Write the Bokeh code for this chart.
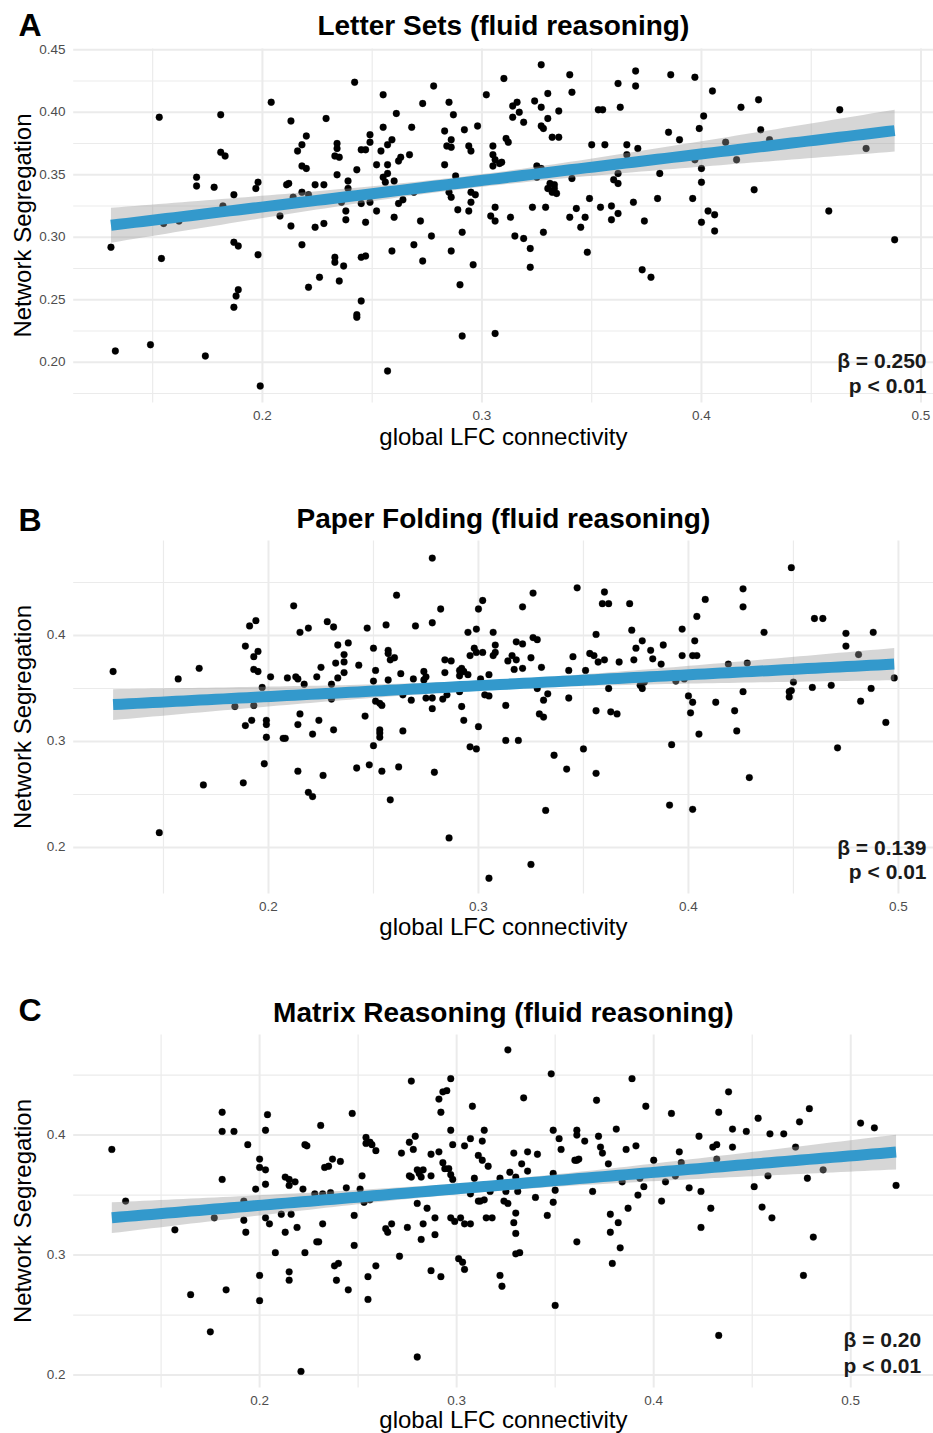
import math
import numpy as np
from bokeh.plotting import figure
from bokeh.models import Range1d, Label
from bokeh.core.properties import value
from bokeh.layouts import column
from bokeh.embed import file_html
from bokeh.resources import INLINE

# ---------------- data ----------------
a_x = [0.131,0.133,0.149,0.153,0.154,0.155,0.162,0.170,0.170,0.174,0.178,0.181,0.181,0.183,0.182,0.187,0.187,0.189,0.189,0.188,
       0.187,0.197,0.198,0.198,0.199,0.204,0.208,0.211,0.212,0.213,0.213,0.214,0.218,0.216,0.218,0.220,0.218,0.220,0.218,0.221,
       0.221,0.224,0.224,0.226,0.228,0.229,0.228,0.233,0.233,0.234,0.234,0.234,0.233,0.235,0.235,0.237,0.238,0.238,0.236,0.239,
       0.239,0.242,0.243,0.245,0.245,0.247,0.247,0.245,0.247,0.245,0.243,0.243,0.249,0.249,0.249,
       0.255,0.255,0.259,0.257,0.254,0.252,0.257,0.255,0.257,0.256,0.260,0.261,0.262,0.263,0.267,0.268,0.252,0.260,0.262,0.264,
       0.269,0.272,0.273,0.278,0.277,0.269,0.273,0.259,0.257,0.283,0.285,0.287,0.284,0.286,0.286,0.283,0.288,0.285,0.286,0.289,
       0.286,0.291,0.290,0.291,0.292,0.294,0.295,0.295,0.297,0.295,0.294,0.296,0.298,0.302,0.305,0.305,0.306,0.305,0.308,0.309,
       0.310,0.311,0.312,0.306,0.304,0.306,0.306,0.313,0.314,0.314,0.316,0.317,0.319,0.315,0.319,0.322,0.322,0.323,0.324,0.327,
       0.327,0.330,0.330,0.327,0.328,0.325,0.327,0.325,0.328,0.329,0.330,0.331,0.333,0.332,0.334,0.333,0.332,0.335,0.335,0.340,
       0.341,0.341,0.340,0.343,0.345,0.347,0.349,0.348,0.350,0.353,0.355,0.356,0.354,0.359,0.359,0.362,0.360,0.362,0.362,0.366,
       0.362,0.363,0.366,0.370,0.370,0.371,0.369,0.374,0.373,
       0.377,0.386,0.397,0.405,0.401,0.399,0.385,0.390,0.397,0.400,0.400,0.381,0.380,0.396,0.403,0.406,0.400,0.406,0.418,0.426,
       0.427,0.431,0.411,0.416,0.424,0.458,0.463,0.475,0.488]
a_y = [0.292,0.209,0.214,0.396,0.283,0.311,0.313,0.348,0.341,0.205,0.340,0.398,0.368,0.365,0.325,0.334,0.296,0.293,0.258,0.253,
       0.244,0.339,0.344,0.286,0.181,0.408,0.317,0.342,0.343,0.393,0.309,0.332,0.294,0.369,0.374,0.381,0.357,0.355,0.336,0.334,
       0.260,0.342,0.308,0.268,0.342,0.395,0.311,0.284,0.280,0.350,0.375,0.371,0.365,0.364,0.265,0.277,0.321,0.314,0.328,0.345,
       0.339,0.424,0.354,0.327,0.370,0.370,0.312,0.284,0.285,0.249,0.238,0.236,0.382,0.376,0.328,
       0.414,0.388,0.378,0.374,0.369,0.358,0.358,0.348,0.351,0.344,0.345,0.399,0.361,0.364,0.366,0.388,0.321,0.316,0.327,0.330,
       0.336,0.313,0.407,0.421,0.301,0.294,0.281,0.289,0.193,0.385,0.408,0.398,0.373,0.378,0.372,0.358,0.349,0.336,0.332,0.322,
       0.289,0.304,0.262,0.221,0.386,0.373,0.369,0.336,0.334,0.328,0.321,0.278,0.389,0.414,0.373,0.366,0.362,0.357,0.359,0.360,
       0.427,0.379,0.376,0.324,0.317,0.313,0.223,0.316,0.396,0.405,0.408,0.400,0.392,0.301,0.299,0.291,0.276,0.324,0.409,0.404,
       0.438,0.415,0.395,0.389,0.387,0.357,0.355,0.348,0.304,0.324,0.339,0.343,0.339,0.336,0.335,0.342,0.380,0.380,0.401,0.430,
       0.416,0.347,0.316,0.323,0.308,0.316,0.331,0.288,0.374,0.402,0.402,0.374,0.324,0.325,0.314,0.319,0.346,0.343,0.351,0.366,
       0.423,0.404,0.374,0.433,0.421,0.371,0.328,0.313,0.274,
       0.268,0.430,0.428,0.417,0.397,0.387,0.384,0.378,0.362,0.355,0.344,0.351,0.331,0.331,0.321,0.318,0.312,0.305,0.404,0.410,
       0.386,0.378,0.376,0.362,0.338,0.321,0.402,0.371,0.298]

b_x = [0.126,0.148,0.157,0.167,0.169,0.184,0.188,0.191,0.194,0.189,0.195,0.193,0.193,0.195,0.197,0.193,0.192,0.189,0.199,0.199,
       0.199,0.198,0.201,0.209,0.213,0.214,0.212,0.215,0.219,0.217,0.215,0.214,0.207,0.208,0.221,0.214,0.219,0.221,0.223,0.225,
       0.224,0.226,0.228,0.231,0.233,0.238,0.236,0.236,0.232,0.236,0.233,0.230,0.230,0.231,0.243,0.247,0.246,0.242,0.248,
       0.250,0.251,0.250,0.251,0.253,0.254,0.253,0.253,0.253,0.250,0.254,0.258,0.256,0.261,0.257,0.258,0.260,0.257,0.257,0.263,
       0.264,0.264,0.262,0.269,0.268,0.270,0.274,0.275,0.274,0.275,0.278,0.278,0.278,0.278,0.282,0.279,0.286,0.284,0.284,0.287,
       0.283,0.285,0.285,0.291,0.292,0.293,0.291,0.295,0.291,0.292,0.293,0.295,0.299,0.298,0.296,0.299,0.302,0.300,0.302,0.296,
       0.299,0.300,0.301,0.303,0.305,0.305,0.307,0.308,0.308,0.307,0.305,0.314,0.316,0.318,0.317,0.321,0.318,0.321,0.321,0.326,
       0.326,0.328,0.325,0.330,0.328,0.333,0.331,0.329,0.331,0.313,0.313,0.319,0.325,0.332,0.336,0.342,0.343,0.343,0.345,0.347,
       0.350,0.351,0.353,0.355,0.356,0.357,0.360,0.356,0.356,0.360,0.359,0.362,0.362,0.363,0.366,0.367,0.372,0.373,0.375,0.374,
       0.377,
       0.378,0.378,0.382,0.383,0.387,0.388,0.379,0.394,0.397,0.397,0.402,0.404,0.403,0.404,0.408,0.398,0.400,0.402,0.401,0.405,
       0.392,0.391,0.402,0.413,0.419,0.428,0.426,0.426,0.426,0.422,0.423,0.429,0.436,0.449,0.450,0.448,0.448,0.449,0.460,0.464,
       0.459,0.468,0.471,0.475,0.475,0.481,0.482,0.487,0.488,0.494,0.498]
b_y = [0.366,0.214,0.359,0.369,0.259,0.333,0.261,0.409,0.414,0.390,0.385,0.380,0.368,0.366,0.351,0.334,0.320,0.315,0.320,0.316,
       0.304,0.279,0.361,0.360,0.361,0.359,0.428,0.403,0.407,0.354,0.326,0.316,0.303,0.303,0.307,0.272,0.252,0.248,0.361,0.370,
       0.320,0.268,0.413,0.408,0.391,0.393,0.382,0.375,0.374,0.365,0.360,0.354,0.340,0.311,0.372,0.407,0.324,0.275,0.278,
       0.388,0.367,0.357,0.338,0.336,0.334,0.311,0.308,0.304,0.296,0.272,0.245,0.410,0.438,0.386,0.377,0.379,0.383,0.358,0.364,
       0.344,0.310,0.276,0.359,0.339,0.409,0.366,0.361,0.358,0.341,0.341,0.331,0.473,0.412,0.425,0.271,0.209,0.365,0.377,0.376,
       0.340,0.344,0.351,0.362,0.369,0.366,0.367,0.363,0.347,0.333,0.320,0.403,0.406,0.388,0.381,0.384,0.384,0.425,0.433,0.295,
       0.293,0.314,0.359,0.344,0.343,0.363,0.403,0.391,0.384,0.381,0.171,0.376,0.381,0.377,0.368,0.369,0.394,0.392,0.427,0.440,
       0.398,0.396,0.379,0.370,0.350,0.345,0.339,0.326,0.323,0.334,0.301,0.301,0.184,0.235,0.287,0.274,0.341,0.367,0.380,0.445,
       0.293,0.367,0.383,0.381,0.401,0.375,0.377,0.329,0.270,0.441,0.430,0.430,0.350,0.328,0.326,0.375,0.430,0.405,0.388,0.377,
       0.353,
       0.395,0.350,0.386,0.378,0.373,0.391,0.356,0.357,0.406,0.381,0.381,0.381,0.395,0.418,0.434,0.359,0.343,0.337,0.327,0.307,
       0.297,0.240,0.236,0.337,0.373,0.374,0.427,0.444,0.347,0.329,0.310,0.266,0.403,0.464,0.356,0.347,0.342,0.348,0.416,0.416,
       0.351,0.353,0.294,0.402,0.390,0.382,0.338,0.350,0.403,0.318,0.360]

c_x = [0.125,0.132,0.157,0.165,0.175,0.177,0.181,0.181,0.187,0.181,0.183,0.192,0.192,0.193,0.194,0.198,0.200,0.200,0.203,0.203,
       0.204,0.203,0.203,0.205,0.200,0.200,0.208,0.211,0.216,0.213,0.213,0.215,0.215,0.218,0.215,0.215,0.221,0.219,0.222,0.223,
       0.224,0.223,0.229,0.230,0.228,0.232,0.236,0.231,0.232,0.233,0.235,0.237,0.241,0.238,0.240,0.239,0.245,0.244,0.247,0.248,
       0.248,0.252,0.251,0.253,0.255,0.255,0.254,0.254,
       0.256,0.257,0.259,0.256,0.259,0.264,0.265,0.267,0.271,0.272,0.275,0.276,0.278,0.279,0.277,0.276,0.277,0.280,0.281,0.283,
       0.282,0.287,0.280,0.285,0.283,0.282,0.289,0.289,0.287,0.292,0.280,0.287,0.291,0.291,0.293,0.295,0.297,0.292,0.297,0.298,
       0.293,0.294,0.296,0.297,0.298,0.297,0.299,0.302,0.301,0.303,0.304,0.304,0.307,0.304,0.307,0.308,0.309,0.307,0.311,0.314,
       0.312,0.311,0.313,0.316,0.314,0.313,0.315,0.318,0.317,0.322,0.323,0.322,0.324,0.326,0.325,0.326,0.327,0.329,0.330,0.331,
       0.330,0.329,0.330,0.330,0.332,0.334,0.333,0.336,0.336,0.340,0.341,0.346,0.348,0.349,0.349,0.350,0.349,0.350,0.352,0.353,
       0.361,0.361,0.365,0.361,0.362,0.360,0.361,0.369,0.371,0.372,0.373,0.374,0.377,0.381,0.378,0.382,0.378,0.383,0.379,0.384,
       0.386,0.389,0.391,0.393,0.392,0.395,0.387,0.396,
       0.400,0.409,0.406,0.404,0.411,0.413,0.414,0.418,0.423,0.424,0.424,0.429,0.430,0.432,0.432,0.433,0.438,0.440,0.440,0.433,
       0.447,0.451,0.453,0.455,0.458,0.459,0.460,0.466,0.472,0.474,0.479,0.478,0.481,0.476,0.486,0.505,0.512,0.523]
c_y = [0.388,0.345,0.321,0.267,0.236,0.331,0.419,0.403,0.403,0.363,0.271,0.345,0.329,0.319,0.392,0.355,0.380,0.373,0.371,0.359,
       0.417,0.404,0.331,0.326,0.283,0.262,0.302,0.334,0.334,0.319,0.365,0.363,0.358,0.361,0.286,0.279,0.203,0.323,0.355,0.392,
       0.391,0.302,0.311,0.311,0.351,0.351,0.352,0.408,0.326,0.373,0.374,0.380,0.378,0.291,0.293,0.279,0.271,0.356,0.418,0.333,
       0.308,0.366,0.355,0.344,0.282,0.263,0.398,0.393,
       0.394,0.392,0.387,0.346,0.291,0.322,0.319,0.326,0.299,0.385,0.323,0.394,0.388,0.399,0.445,0.366,0.365,0.371,0.368,0.371,
       0.365,0.366,0.343,0.339,0.326,0.313,0.331,0.317,0.287,0.282,0.215,0.384,0.386,0.430,0.436,0.437,0.447,0.419,0.404,0.392,
       0.377,0.372,0.372,0.367,0.363,0.331,0.328,0.331,0.297,0.294,0.288,0.326,0.326,0.391,0.397,0.424,0.364,0.351,0.345,0.346,
       0.345,0.383,0.379,0.374,0.404,0.395,0.331,0.331,0.353,0.283,0.274,0.364,0.345,0.343,0.353,0.471,0.369,0.385,0.365,0.353,
       0.335,0.327,0.318,0.301,0.302,0.431,0.376,0.370,0.386,0.348,0.384,0.333,0.451,0.404,0.368,0.354,0.344,0.258,0.397,0.388,
       0.404,0.400,0.395,0.379,0.380,0.379,0.311,0.353,0.429,0.399,0.390,0.385,0.376,0.405,0.334,0.327,0.319,0.306,0.293,0.361,
       0.388,0.447,0.391,0.364,0.350,0.357,0.339,0.424,
       0.379,0.418,0.361,0.345,0.366,0.386,0.377,0.356,0.399,0.353,0.323,0.339,0.390,0.392,0.380,0.419,0.436,0.405,0.390,0.233,
       0.403,0.357,0.414,0.340,0.366,0.401,0.331,0.401,0.390,0.411,0.422,0.364,0.315,0.283,0.371,0.410,0.406,0.358]

# fitted line (value at left / right end of data) and band half-widths (left, centre, right)
a_fit = [0.3096, 0.3853]; a_band = [0.0140, 0.0050, 0.0167]
b_fit = [0.3348, 0.3730]; b_band = [0.0141, 0.0045, 0.0157]
c_fit = [0.3311, 0.3858]; c_band = [0.0128, 0.0045, 0.0145]

x_ticks = [0.2, 0.3, 0.4, 0.5]
x_minor = [0.15, 0.25, 0.35, 0.45]
a_yticks = [0.20, 0.25, 0.30, 0.35, 0.40, 0.45]
a_yminor = [0.175, 0.225, 0.275, 0.325, 0.375, 0.425]
bc_yticks = [0.2, 0.3, 0.4]
bc_yminor = [0.25, 0.35, 0.45]

titles = ["Letter Sets (fluid reasoning)", "Paper Folding (fluid reasoning)", "Matrix Reasoning (fluid reasoning)"]
letters = ["A", "B", "C"]
betas = ["\u03b2 = 0.250", "\u03b2 = 0.139", "\u03b2 = 0.20"]
pvals = ["p < 0.01", "p < 0.01", "p < 0.01"]
x_title = "global LFC connectivity"
y_title = "Network Segregation"

# ---------------- drawing ----------------
FONT = "Liberation Sans"
W = 933
PL, PR = 72.7, 933.0          # panel left / right edge (px)
SHIFT = 0.4                   # baseline correction (em) observed for text rendering
GRID = "#EBEBEB"


def section(H, T, B, xr, yr, xs, ys, fit, band, yt, ym, yfmt,
            letter, letter_base, title, title_base, xlab_base,
            beta, pval, stat_x, stat_bases, stat_align):
    sx = (PR - PL) / (xr[1] - xr[0])
    sy = (B - T) / (yr[1] - yr[0])
    p = figure(width=W, height=H,
               x_range=Range1d(xr[0] - PL / sx, xr[0] + (W - PL) / sx),
               y_range=Range1d(yr[0] - (H - B) / sy, yr[1] + T / sy),
               output_backend="svg", toolbar_location=None,
               x_axis_location=None, y_axis_location=None,
               min_border_left=0, min_border_right=0, min_border_top=0, min_border_bottom=0)
    p.outline_line_color = None
    p.grid.visible = False

    def px(xp):
        return xr[0] + (xp - PL) / sx

    def py(yp):
        return yr[1] - (yp - T) / sy

    def text_y(base, size):
        return py(base - SHIFT * size)

    # grid (panel area only)
    xmaj = [t for t in x_ticks if xr[0] <= t <= xr[1]]
    xmin_ = [t for t in x_minor if xr[0] <= t <= xr[1]]
    ymaj = [t for t in yt if yr[0] <= t <= yr[1]]
    ymin_ = [t for t in ym if yr[0] <= t <= yr[1]]
    p.segment(x0=xmin_, y0=[yr[0]] * len(xmin_), x1=xmin_, y1=[yr[1]] * len(xmin_),
              line_color=GRID, line_width=1.2)
    p.segment(x0=[xr[0]] * len(ymin_), y0=ymin_, x1=[xr[1]] * len(ymin_), y1=ymin_,
              line_color=GRID, line_width=1.2)
    p.segment(x0=xmaj, y0=[yr[0]] * len(xmaj), x1=xmaj, y1=[yr[1]] * len(xmaj),
              line_color=GRID, line_width=2)
    p.segment(x0=[xr[0]] * len(ymaj), y0=ymaj, x1=[xr[1]] * len(ymaj), y1=ymaj,
              line_color=GRID, line_width=2)

    # tick labels
    p.text(x=xmaj, y=[text_y(B + 18, 13.5)] * len(xmaj), text=["%.1f" % t for t in xmaj],
           text_font=value(FONT), text_font_size="13.5px", text_color="#4D4D4D",
           text_align="center", text_baseline="alphabetic")
    p.text(x=[px(65)] * len(ymaj), y=[t + (SHIFT * 13.5 - 4.8) / sy for t in ymaj],
           text=[yfmt % t for t in ymaj],
           text_font=value(FONT), text_font_size="13.5px", text_color="#4D4D4D",
           text_align="right", text_baseline="alphabetic")

    # points
    p.scatter(xs, ys, size=6.8, fill_color="black", line_color="black", line_width=0.3)

    # regression band + line
    x0, x1 = min(xs), max(xs)
    xbar = float(np.mean(xs))
    xg = np.linspace(x0, x1, 100)
    yfit = fit[0] + (fit[1] - fit[0]) * (xg - x0) / (x1 - x0)
    hl, h0, hr = band
    c = 0.5 * ((hl ** 2 - h0 ** 2) / (x0 - xbar) ** 2 + (hr ** 2 - h0 ** 2) / (x1 - xbar) ** 2)
    hw = np.sqrt(h0 ** 2 + c * (xg - xbar) ** 2)
    p.varea(x=xg, y1=yfit - hw, y2=yfit + hw, fill_color="#999999", fill_alpha=0.4)
    p.line(xg, yfit, line_color="#3399CC", line_width=11)

    # texts
    cx = (PL + PR) / 2
    p.add_layout(Label(x=px(18), y=text_y(letter_base, 32), text=letter, text_font=FONT,
                       text_font_size="32px", text_font_style="bold", text_color="black",
                       text_align="left", text_baseline="alphabetic"))
    p.add_layout(Label(x=px(cx), y=text_y(title_base, 28), text=title, text_font=FONT,
                       text_font_size="28px", text_font_style="bold", text_color="black",
                       text_align="center", text_baseline="alphabetic"))
    p.add_layout(Label(x=px(cx), y=text_y(xlab_base, 24), text=x_title, text_font=FONT,
                       text_font_size="24px", text_color="black",
                       text_align="center", text_baseline="alphabetic"))
    p.add_layout(Label(x=px(32 - SHIFT * 24), y=py((T + B) / 2), text=y_title, text_font=FONT,
                       text_font_size="24px", text_color="black", angle=math.pi / 2,
                       text_align="center", text_baseline="alphabetic"))
    for t, base in zip((beta, pval), stat_bases):
        p.add_layout(Label(x=px(stat_x), y=text_y(base, 21), text=t, text_font=FONT,
                           text_font_size="21px", text_font_style="bold", text_color="#1A1A1A",
                           text_align=stat_align, text_baseline="alphabetic"))
    return p


# section A: page 0-494 (panel 48-402)
pA = section(494, 48, 402, (0.1138, 0.5057), (0.1678, 0.4510), a_x, a_y, a_fit, a_band,
             a_yticks, a_yminor, "%.2f",
             letters[0], 37, titles[0], 36, 446,
             betas[0], pvals[0], 926, (368, 393), "right")
# section B: page 494-987 (panel 540-893 -> 46-399)
pB = section(493, 46, 399, (0.1070, 0.5167), (0.1566, 0.4896), b_x, b_y, b_fit, b_band,
             bc_yticks, bc_yminor, "%.1f",
             letters[1], 38, titles[1], 35, 442,
             betas[1], pvals[1], 926, (855 - 494, 879 - 494), "right")
# section C: page 987-1433 (panel 1034-1387 -> 47-400)
pC = section(446, 47, 400, (0.1054, 0.5420), (0.1896, 0.4838), c_x, c_y, c_fit, c_band,
             bc_yticks, bc_yminor, "%.1f",
             letters[2], 35, titles[2], 36, 442,
             betas[2], pvals[2], 843, (1347 - 987, 1373 - 987), "left")

layout = column(pA, pB, pC)
open("out.html", "w").write(file_html(layout, INLINE))
